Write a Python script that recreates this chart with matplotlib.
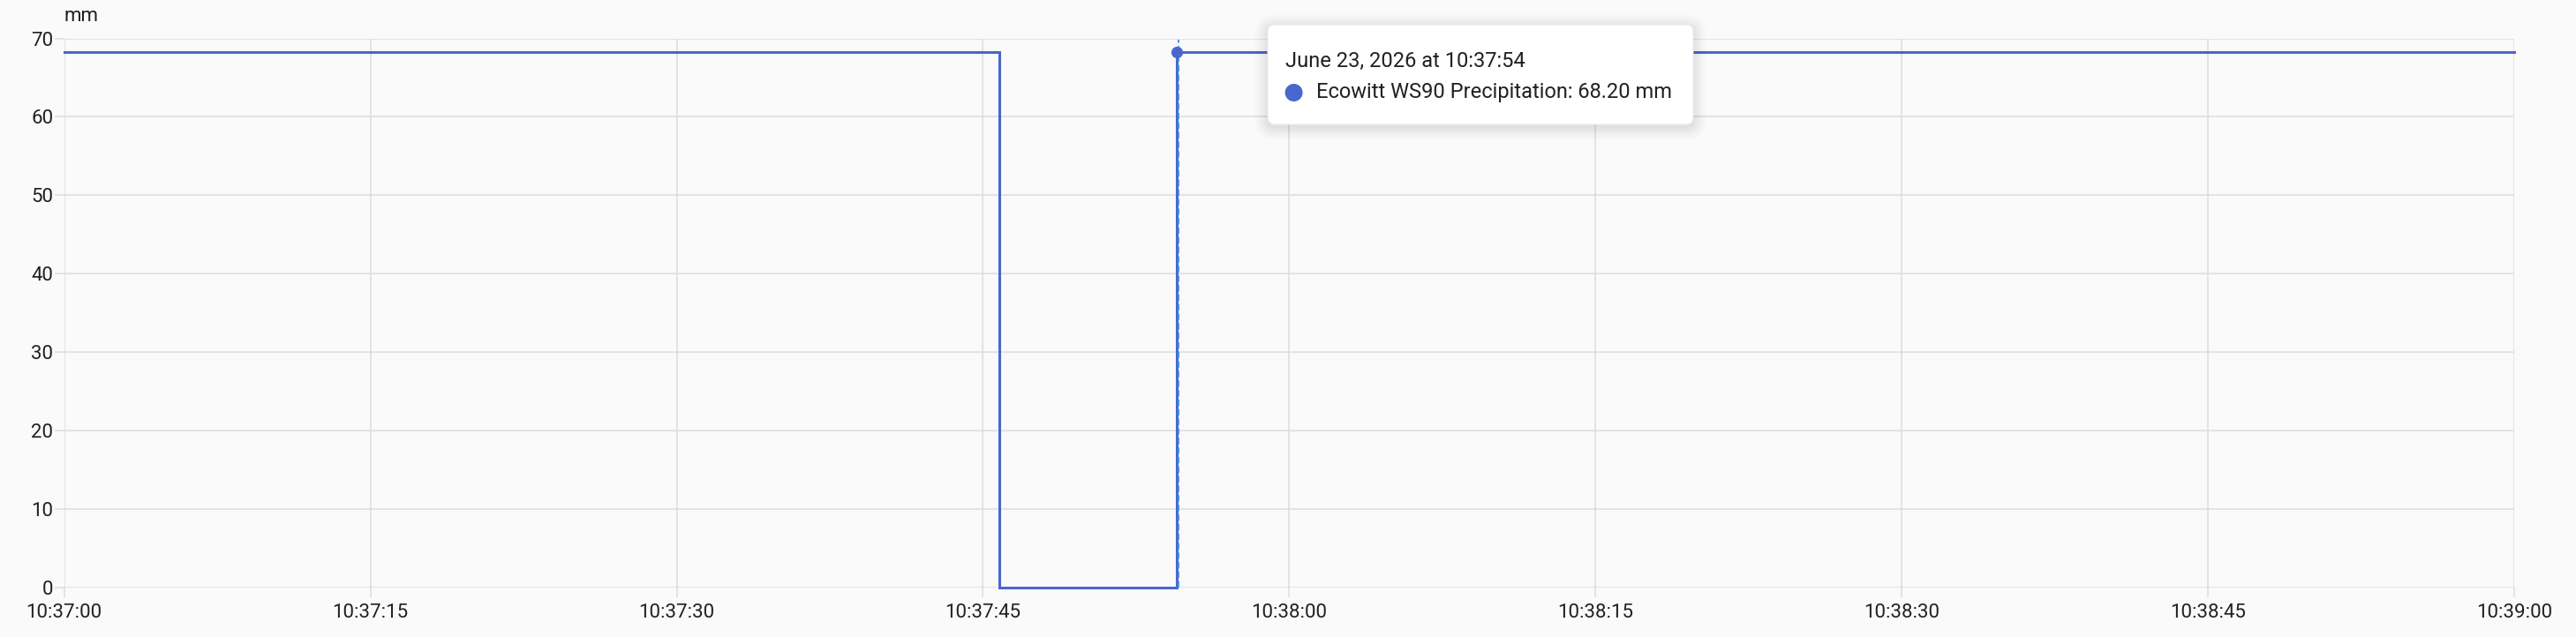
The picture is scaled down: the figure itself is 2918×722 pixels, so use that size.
import matplotlib
matplotlib.use("Agg")
import matplotlib.pyplot as plt
import matplotlib.dates as mdates
import matplotlib.transforms as mtransforms
from matplotlib.patches import FancyBboxPatch, Circle
import pandas as pd

# ---- data ----
times = ["2026-06-23 10:37:00.0", "2026-06-23 10:37:45.8", "2026-06-23 10:37:54.5", "2026-06-23 10:39:00.0"]
values = [68.2, 0.0, 68.2, 68.2]
hover_time = "2026-06-23 10:37:54.5"
hover_value = 68.2
x_range = ["2026-06-23 10:37:00", "2026-06-23 10:39:00"]
y_ticks = [0, 10, 20, 30, 40, 50, 60, 70]
unit = "mm"
tooltip_title = "June 23, 2026 at 10:37:54"
tooltip_series = "Ecowitt WS90 Precipitation: 68.20 mm"

W, H = 2918, 722
plt.rcParams['font.family'] = ['Roboto', 'DejaVu Sans']
fig = plt.figure(figsize=(W / 100, H / 100), dpi=100)
fig.patch.set_facecolor('#fafafa')

def fx(x):
    return x / W

def fy(y):
    return 1 - y / H

left, right, top, bottom = 72.7, 2848, 43.5, 665.5
ax = fig.add_axes([fx(left), fy(bottom), fx(right) - fx(left), fy(top) - fy(bottom)])
ax.set_facecolor('#fafafa')

t = pd.to_datetime(times, format='mixed')
line_color = '#4a67cc'
ax.plot(t, values, drawstyle='steps-post', color=line_color, lw=2.2, zorder=3,
        solid_joinstyle='miter', clip_on=False)

ht = pd.to_datetime(hover_time, format='mixed')
offs = mtransforms.ScaledTranslation(2 / 100, 0, fig.dpi_scale_trans)
ax.plot([ht, ht], [0, 0.997], color='#3d8fe3', lw=1.3, ls=(0, (4, 2)), zorder=4,
        transform=ax.get_xaxis_transform() + offs)
ax.plot([ht], [hover_value], 'o', ms=8.5, color=line_color, zorder=5)

ax.set_xlim(pd.to_datetime(x_range[0]), pd.to_datetime(x_range[1]))
ax.set_ylim(0, 70)
ax.set_yticks(y_ticks)
ax.xaxis.set_major_locator(mdates.SecondLocator(bysecond=[0, 15, 30, 45]))
ax.xaxis.set_major_formatter(mdates.DateFormatter('%H:%M:%S'))

for s in ax.spines.values():
    s.set_visible(False)
ax.grid(True, color='#dcdcdc', lw=1.1, zorder=0)
ax.tick_params(axis='both', colors='#dcdcdc', labelcolor='#212121', labelsize=16, length=8, width=1.1)
ax.tick_params(axis='y', pad=1)
ax.tick_params(axis='x', pad=5)

fig.text(fx(73), fy(19), unit, fontsize=16, color='#212121', ha='left', va='center')

# ---- tooltip (pixel coordinates, origin top-left converted) ----
bx0, by0, bx1, by1 = 1436, 28, 1918, 141
bw, bh = bx1 - bx0, by1 - by0
for i, a in enumerate([0.025, 0.022, 0.02, 0.017, 0.014]):
    d = 2 + i * 3
    sh = FancyBboxPatch((bx0 - d, H - by1 - d - 3), bw + 2 * d, bh + 2 * d,
                        boxstyle=f"round,pad=0,rounding_size={8 + d}", transform=None,
                        facecolor='black', edgecolor='none', alpha=a, zorder=9)
    fig.patches.append(sh)
box = FancyBboxPatch((bx0, H - by1), bw, bh,
                     boxstyle="round,pad=0,rounding_size=8", transform=None,
                     facecolor='white', edgecolor='#ececec', lw=0.8, zorder=10)
fig.patches.append(box)
fig.text(fx(1456), fy(69), tooltip_title, fontsize=17, color='#212121', ha='left', va='center', zorder=11)
dot = Circle((1465.6, H - 105), 10, transform=None, facecolor=line_color, edgecolor='none', zorder=11)
fig.patches.append(dot)
fig.text(fx(1491), fy(105), tooltip_series, fontsize=17, color='#212121', ha='left', va='center', zorder=11)

fig.savefig('out.png', dpi=100, facecolor=fig.get_facecolor())
